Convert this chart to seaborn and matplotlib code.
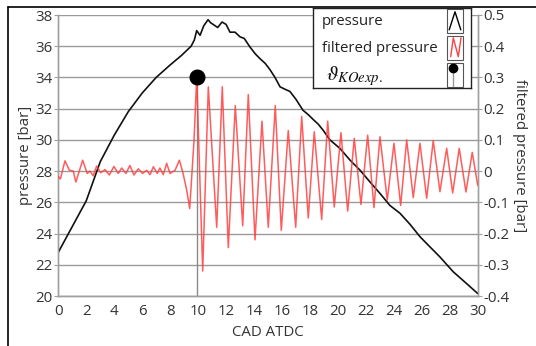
import numpy as np
import pandas as pd
import matplotlib
matplotlib.use("Agg")
import matplotlib.pyplot as plt
import seaborn as sns
from matplotlib.patches import Rectangle
from matplotlib.lines import Line2D

# ---------------- data ----------------
pressure_cad = [0, 1, 2, 3, 4, 5, 6, 7, 8, 8.8, 9.5, 9.73, 9.9, 10.14, 10.4, 10.71,
                10.9, 11.07, 11.4, 11.71, 12.0, 12.28, 12.64, 13.0, 13.3, 13.71, 14.1,
                14.43, 14.8, 15.14, 15.5, 15.86, 16.2, 16.57, 17.0, 17.5, 17.9, 18.24,
                18.6, 18.96, 19.43, 20.15, 20.87, 21.58, 22.3, 23.01, 23.72, 24.44,
                25.15, 25.87, 26.35, 27.3, 28.25, 29.2, 30.0]
pressure_bar = [22.8, 24.45, 26.1, 28.6, 30.3, 31.8, 33.0, 34.0, 34.8, 35.4, 36.0, 36.4,
                37.0, 36.7, 37.3, 37.7, 37.5, 37.4, 37.2, 37.55, 37.4, 36.9, 36.9, 36.6,
                36.5, 35.95, 35.5, 35.2, 34.9, 34.5, 34.0, 33.4, 33.25, 33.1, 32.6, 31.9,
                31.6, 31.3, 31.0, 30.6, 30.0, 29.45, 28.7, 28.06, 27.3, 26.57, 25.8,
                25.3, 24.6, 23.8, 23.36, 22.5, 21.55, 20.8, 20.16]

filtered_cad = [0, 0.15, 0.48, 0.79, 1.07, 1.26, 1.74, 2.07, 2.26, 2.5, 2.74, 3.03, 3.34,
                3.65, 3.98, 4.29, 4.53, 4.84, 5.12, 5.41, 5.72, 6.03, 6.32, 6.56, 6.8,
                7.08, 7.27, 7.51, 7.75, 7.99, 8.35, 8.66, 8.9, 9.18, 9.4, 9.71, 9.9,
                10.33, 10.73, 11.33, 11.73, 12.16, 12.66, 13.19, 13.59, 14.07, 14.57,
                15.02, 15.52, 15.95, 16.45, 16.98, 17.41, 17.88, 18.31, 18.84, 19.27,
                19.74, 20.22, 20.7, 21.17, 21.65, 22.13, 22.58, 23.01, 23.53, 24.01,
                24.49, 24.92, 25.39, 25.87, 26.35, 26.82, 27.3, 27.78, 28.21, 28.68,
                29.16, 29.61, 30.0]
filtered_bar = [-0.018, -0.025, 0.033, 0.003, 0.0, -0.035, 0.035, -0.0075, 0.0, -0.015,
                0.016, -0.005, 0.005, -0.0125, 0.015, -0.0075, 0.01, -0.0075, 0.018,
                -0.0125, 0.0075, -0.0075, 0.0025, -0.0115, 0.014, -0.0075, 0.01, -0.0115,
                0.025, -0.0075, 0.0025, 0.035, -0.0025, -0.06, -0.12, 0.1, 0.3,
                -0.32, 0.27, -0.18, 0.27, -0.245, 0.21, -0.175, 0.245, -0.22, 0.16,
                -0.18, 0.21, -0.19, 0.13, -0.18, 0.175, -0.15, 0.126, -0.155, 0.16,
                -0.115, 0.123, -0.128, 0.105, -0.107, 0.115, -0.117, 0.11, -0.093, 0.089,
                -0.11, 0.10, -0.085, 0.089, -0.087, 0.098, -0.066, 0.073, -0.07, 0.073,
                -0.067, 0.06, -0.045]

knock_cad = [9.9]
knock_bar = [34.0]

left_ticks = [20, 22, 24, 26, 28, 30, 32, 34, 36, 38]
right_ticks = [-0.4, -0.3, -0.2, -0.1, 0, 0.1, 0.2, 0.3, 0.4, 0.5]
right_tick_labels = ["-0.4", "-0.3", "-0.2", "-0.1", "0", "0.1", "0.2", "0.3", "0.4", "0.5"]
x_ticks = list(range(0, 31, 2))

# ---------------- style ----------------
sns.set_style("white")
plt.rcParams["font.family"] = ["Open Sans", "DejaVu Sans"]
plt.rcParams["mathtext.fontset"] = "stix"

W, H = 536, 346
fig = plt.figure(figsize=(W / 100, H / 100), dpi=100)
ax = fig.add_axes([58.3 / W, 1 - 296 / H, (477.7 - 58.3) / W, (296 - 15) / H])
ax2 = ax.twinx()

grid_c = "#9a9a9a"
tick_c = "#333333"
red_c = "#ff4040"

df_p = pd.DataFrame({"cad": pressure_cad, "p": pressure_bar})
df_f = pd.DataFrame({"cad": filtered_cad, "f": filtered_bar})

for y in left_ticks:
    ax.axhline(y, color=grid_c, lw=1.0, zorder=0)

# knock onset vertical line
ax.plot([knock_cad[0], knock_cad[0]], [20, knock_bar[0]], color="#8a8a8a", lw=1.0, zorder=1)

sns.lineplot(data=df_p, x="cad", y="p", ax=ax, color="#111111", lw=1.2,
             sort=False, estimator=None, zorder=3)
sns.lineplot(data=df_f, x="cad", y="f", ax=ax2, color=red_c, lw=1.1, alpha=0.85,
             sort=False, estimator=None, zorder=3, solid_joinstyle="round")
ax2.plot(knock_cad, [(knock_bar[0] - 28) / 20], "o", color="black", ms=10.5, zorder=5)

ax.set_xlim(0, 30)
ax.set_ylim(20, 38)
ax2.set_ylim(-0.4, 0.5)
ax.set_xticks(x_ticks)
ax.set_yticks(left_ticks)
ax2.set_yticks(right_ticks)
ax2.set_yticklabels(right_tick_labels)

fs = 10.8
for a in (ax, ax2):
    for s in a.spines.values():
        s.set_color("#a0a0a0")
        s.set_linewidth(1.0)
    a.spines["top"].set_visible(False)
    a.tick_params(axis="both", which="both", length=3, width=0.8, color="#a0a0a0",
                  labelsize=fs, labelcolor=tick_c, pad=1)
ax.tick_params(axis="x", pad=3)

ax.set_xlabel("CAD ATDC", fontsize=fs, color=tick_c, labelpad=4)
ax.set_ylabel("pressure [bar]", fontsize=fs, color=tick_c, labelpad=2)
ax2.set_ylabel("filtered pressure [bar]", fontsize=fs, color=tick_c, rotation=270,
               labelpad=13)

# ---------------- custom legend ----------------
lx0, ly0, lx1, ly1 = 313, 8.3, 471, 88.3
lg = fig.add_axes([lx0 / W, 1 - ly1 / H, (lx1 - lx0) / W, (ly1 - ly0) / H], zorder=10)
lg.set_xlim(0, lx1 - lx0)
lg.set_ylim(ly1 - ly0, 0)
lg.set_xticks([])
lg.set_yticks([])
lg.set_facecolor("white")
for s in lg.spines.values():
    s.set_color("#222222")
    s.set_linewidth(1.0)
    s.set_visible(True)

lg.text(9, 13.0, "pressure", fontsize=fs, color="#222222", va="center", ha="left")
lg.text(9, 40.0, "filtered pressure", fontsize=fs, color="#222222", va="center", ha="left")
lg.text(13, 68.0, r"$\vartheta_{KOexp.}$", fontsize=15, color="#111111", va="center", ha="left")

for (y0, y1) in [(0.7, 24.7), (27.7, 51.7), (54.4, 78.4)]:
    lg.add_patch(Rectangle((133.7, y0), 16.6, y1 - y0, fill=False, ec="#555555", lw=0.8))
lg.add_line(Line2D([136.2, 142, 147.8], [21.5, 3.5, 21.5], color="black", lw=1.0))
lg.add_line(Line2D([137.7, 140.3, 145.3, 148], [48.4, 29.5, 48.4, 29.5], color=red_c, lw=1.0))
lg.add_line(Line2D([140.3, 140.3], [60, 78], color="#999999", lw=1.0))
lg.plot([140.3], [60], "o", color="black", ms=6)

# frame lines of the cropped figure (top and left)
fig.add_artist(Line2D([8 / W, 1], [1 - 7 / H, 1 - 7 / H], color="black", lw=1.2,
                      transform=fig.transFigure))
fig.add_artist(Line2D([8 / W, 8 / W], [0, 1 - 7 / H], color="black", lw=1.2,
                      transform=fig.transFigure))

fig.savefig("out.png", dpi=100)
